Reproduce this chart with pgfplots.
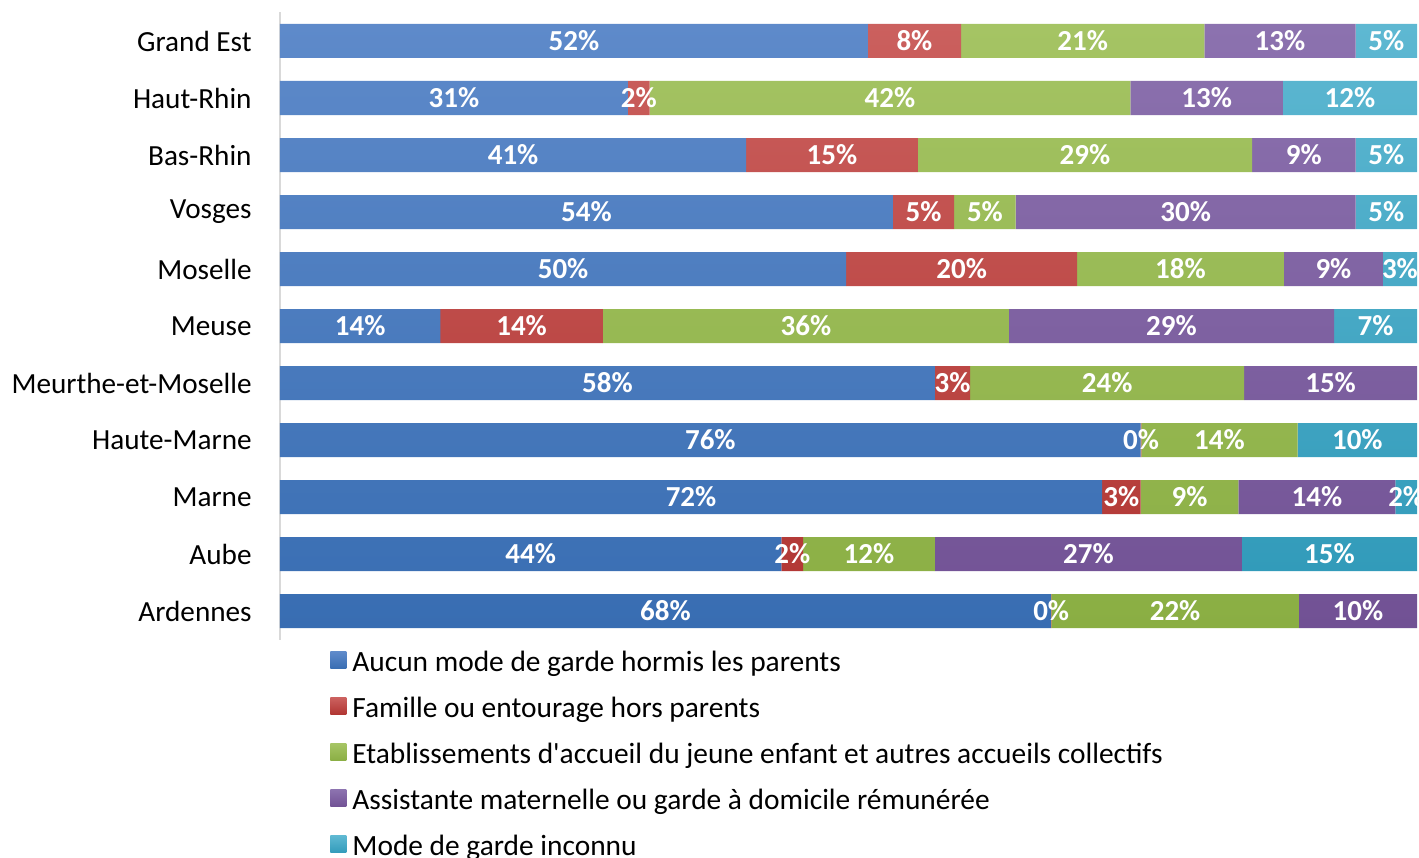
\documentclass[border=0pt]{standalone}
\usepackage{fontspec}
\setmainfont{Carlito}
\usepackage{pgfplots}
\pgfplotsset{compat=1.18}
\definecolor{blueT}{RGB}{94,138,202}
\definecolor{blueB}{RGB}{56,109,178}
\definecolor{redT}{RGB}{203,96,94}
\definecolor{redB}{RGB}{176,52,49}
\definecolor{greenT}{RGB}{165,196,100}
\definecolor{greenB}{RGB}{138,174,67}
\definecolor{purpleT}{RGB}{140,114,175}
\definecolor{purpleB}{RGB}{113,81,148}
\definecolor{cyanT}{RGB}{94,184,210}
\definecolor{cyanB}{RGB}{50,155,186}
\begin{document}
\begin{tikzpicture}
\begin{axis}[
  scale only axis,
  width=568.5pt, height=313.5pt,
  xbar stacked,
  bar width=17pt,
  xmin=0, xmax=100,
  ymin=-0.5, ymax=10.5,
  axis x line=none,
  axis y line*=left,
  y axis line style={draw=black!15, line width=1pt},
  xtick=\empty,
  ytick={0,...,10},
  yticklabels={Ardennes,Aube,Marne,Haute-Marne,Meurthe-et-Moselle,Meuse,Moselle,Vosges,Bas-Rhin,Haut-Rhin,Grand Est},
  major tick length=0pt,
  ytick style={draw=none},
  yticklabel style={font=\fontsize{14.6}{17}\selectfont, text=black, inner sep=0pt, xshift=-14pt},
  point meta=explicit symbolic,
  nodes near coords,
  every node near coord/.append style={font=\fontsize{14.5}{17}\selectfont\bfseries, text=white, anchor=center},
  legend image code/.code={\path[#1, draw=none] (0pt,-2.5pt) rectangle (8pt,6pt);},
  legend cell align=left,
  legend style={at={(0,0)}, anchor=north west, xshift=25pt, yshift=-5.25pt,
    draw=none, fill=none, inner sep=0pt,
    font=\fontsize{14.7}{17}\selectfont,
    row sep=9.5pt, column sep=3pt,
    nodes={inner sep=0pt, text height=10.5pt, text depth=3pt}},
]
\addplot[draw=none, top color=blueT, bottom color=blueB] coordinates {
 (67.8,0) [68\%] (44.1,1) [44\%] (72.3,2) [72\%] (75.7,3) [76\%] (57.6,4) [58\%]
 (14.1,5) [14\%] (49.8,6) [50\%] (53.9,7) [54\%] (41.0,8) [41\%] (30.6,9) [31\%] (51.7,10) [52\%]};
\addplot[draw=none, top color=redT, bottom color=redB] coordinates {
 (0.05,0) [0\%] (1.9,1) [2\%] (3.4,2) [3\%] (0.05,3) [0\%] (3.1,4) [3\%]
 (14.3,5) [14\%] (20.3,6) [20\%] (5.4,7) [5\%] (15.1,8) [15\%] (1.9,9) [2\%] (8.2,10) [8\%]};
\addplot[draw=none, top color=greenT, bottom color=greenB] coordinates {
 (21.75,0) [22\%] (11.6,1) [12\%] (8.6,2) [9\%] (13.75,3) [14\%] (24.1,4) [24\%]
 (35.7,5) [36\%] (18.2,6) [18\%] (5.4,7) [5\%] (29.4,8) [29\%] (42.3,9) [42\%] (21.4,10) [21\%]};
\addplot[draw=none, top color=purpleT, bottom color=purpleB] coordinates {
 (10.4,0) [10\%] (27.0,1) [27\%] (13.8,2) [14\%] (0,3) [] (15.2,4) [15\%]
 (28.6,5) [29\%] (8.7,6) [9\%] (29.9,7) [30\%] (9.1,8) [9\%] (13.4,9) [13\%] (13.3,10) [13\%]};
\addplot[draw=none, top color=cyanT, bottom color=cyanB] coordinates {
 (0,0) [] (15.4,1) [15\%] (1.9,2) [2\%] (10.5,3) [10\%] (0,4) []
 (7.3,5) [7\%] (3.0,6) [3\%] (5.4,7) [5\%] (5.4,8) [5\%] (11.8,9) [12\%] (5.4,10) [5\%]};
\legend{Aucun mode de garde hormis les parents,
 Famille ou entourage hors parents,
 Etablissements d\textquotesingle accueil du jeune enfant et autres accueils collectifs,
 Assistante maternelle ou garde à domicile rémunérée,
 Mode de garde inconnu}
\end{axis}
\pgfresetboundingbox
\path ([xshift=-140pt,yshift=-108.75pt]current axis.south west) rectangle ([xshift=1pt,yshift=6.25pt]current axis.north east);
\end{tikzpicture}
\end{document}
